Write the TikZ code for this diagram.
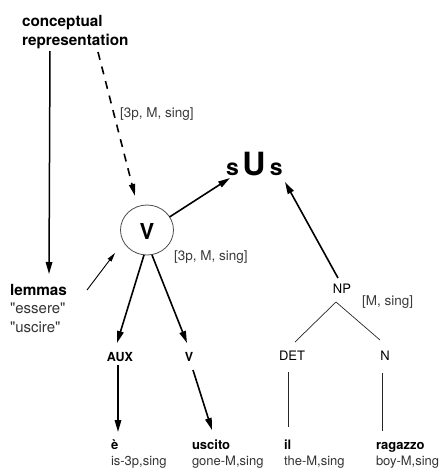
\documentclass[tikz,border=0pt]{standalone}
\usepackage{fontspec}
\setmainfont{TeX Gyre Heros}
\usetikzlibrary{arrows.meta,shapes.geometric}
\definecolor{txtgray}{HTML}{333333}
\definecolor{lblgray}{HTML}{3A3A3A}
\begin{document}
\begin{tikzpicture}[x=1pt,y=-1pt,
  every node/.style={inner sep=0pt,outer sep=0pt},
  bigbold/.style={font=\fontsize{15.3}{18}\selectfont\bfseries, text=black},
  smallbold/.style={font=\fontsize{12.5}{15}\selectfont\bfseries, text=black},
  wordbold/.style={font=\fontsize{13}{15}\selectfont\bfseries, text=black},
  smallreg/.style={font=\fontsize{13}{15}\selectfont, text=txtgray},
  lemreg/.style={font=\fontsize{15}{18}\selectfont, text=txtgray},
  lbl/.style={font=\fontsize{13.5}{15}\selectfont, text=lblgray},
  catlbl/.style={font=\fontsize{13}{15}\selectfont, text=black},
  mainarrow/.style={line width=1.6pt, -{Triangle[length=12pt,width=6.5pt]}},
  thinarrow/.style={line width=0.9pt, -{Triangle[length=9pt,width=4.5pt]}},
  treeline/.style={line width=0.7pt, black!85},
]
\useasboundingbox (0,0) rectangle (443,469);

% texts
\node[bigbold, anchor=base west] (c1) at (22,26) {conceptual};
\node[bigbold, anchor=base west] (c2) at (22,45) {representation};
\node[bigbold, anchor=base west] (lem) at (10,295) {lemmas};
\node[lemreg, anchor=base west] (ess) at (10,313) {\textquotedbl essere\textquotedbl};
\node[lemreg, anchor=base west] (usc) at (10,332) {\textquotedbl uscire\textquotedbl};

\node[lbl, anchor=base west] (f1) at (120,117) {[3p, M, sing]};
\node[lbl, anchor=base west] (f2) at (174,260) {[3p, M, sing]};
\node[lbl, anchor=base west] (f3) at (362,305) {[M, sing]};

\node[draw=black!70, line width=0.8pt, fill=white, ellipse, minimum width=53pt, minimum height=50pt] (V) at (147,230) {};
\node[font=\fontsize{22}{22}\selectfont\bfseries] (vlab) at (147,231) {V};

\node[anchor=base west, font=\bfseries] (sus) at (226,175)
  {\fontsize{23}{23}\selectfont s\hspace{3.5pt}\fontsize{32}{32}\selectfont U\hspace{4.5pt}\fontsize{23}{23}\selectfont s};

\node[smallbold, anchor=base] (aux) at (120,361) {AUX};
\node[smallbold, anchor=base] (v2) at (189,361) {V};
\node[catlbl, anchor=base] (np) at (342,293) {NP};
\node[catlbl, anchor=base] (det) at (292,360) {DET};
\node[catlbl, anchor=base] (n) at (385,360) {N};

\node[wordbold, anchor=base west] (e) at (111,449) {è};
\node[smallreg, anchor=base west] (eg) at (111,465) {is-3p,sing};
\node[wordbold, anchor=base west] (u) at (192,449) {uscito};
\node[smallreg, anchor=base west] (ug) at (192,465) {gone-M,sing};
\node[wordbold, anchor=base west] (il) at (284,449) {il};
\node[smallreg, anchor=base west] (ilg) at (284,465) {the-M,sing};
\node[wordbold, anchor=base west] (r) at (376,449) {ragazzo};
\node[smallreg, anchor=base west] (rg) at (376,465) {boy-M,sing};

% connector free ends
\coordinate (cs) at (50,51);
\coordinate (lt) at (49,274);
\coordinate (ds) at (98,52);
\coordinate (dt) at (135,196);
\coordinate (ls) at (87,290);
\coordinate (lv) at (115,253);
\coordinate (vb1) at (144,255);
\coordinate (vb2) at (152,255);

% connectors
\draw[line width=1.5pt, -{Triangle[length=12pt,width=6.5pt]}] (cs) -- (lt);
\draw[line width=1.6pt, dash pattern=on 8pt off 7pt, -{Triangle[length=12pt,width=6pt]}] (ds) -- (dt);
\draw[thinarrow] (ls) -- (lv);
\draw[mainarrow] (V.30) -- ([shift={(4,3)}]sus.base west);
\draw[mainarrow] ([shift={(-4,-15)}]np.base) -- ([shift={(59,7)}]sus.base west);
\draw[mainarrow] (vb1) -- ([shift={(-3,-18)}]aux.base);
\draw[mainarrow] (vb2) -- ([shift={(-2,-18)}]v2.base);
\draw[mainarrow] ([shift={(-2,4)}]aux.base) -- ([shift={(7,-17)}]e.base west);
\draw[mainarrow] ([shift={(4,9)}]v2.base) -- ([shift={(20,-19)}]u.base west);
\draw[treeline] ([shift={(-6,9)}]np.base) -- ([shift={(3,-18)}]det.base);
\draw[treeline] ([shift={(-6,9)}]np.base) -- ([shift={(-5,-20)}]n.base);
\draw[treeline] ([shift={(-4,12)}]det.base) -- ([shift={(4,-22)}]il.base west);
\draw[treeline] ([shift={(-3,13)}]n.base) -- ([shift={(6,-18)}]r.base west);
\end{tikzpicture}
\end{document}
